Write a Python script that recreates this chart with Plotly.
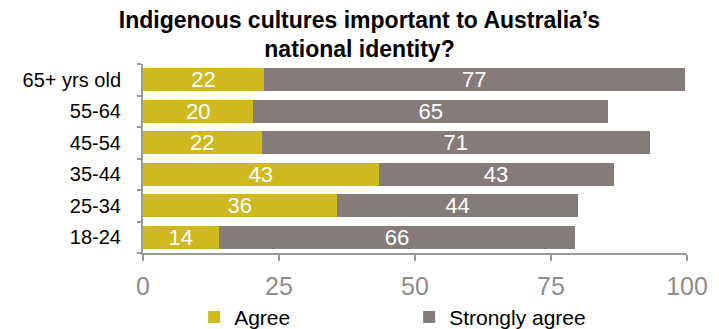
import plotly.graph_objects as go

categories = ["18-24", "25-34", "35-44", "45-54", "55-64", "65+ yrs old"]
agree = [13.9, 35.6, 43.3, 21.8, 20.3, 22.2]
strongly_agree = [65.6, 44.4, 43.2, 71.4, 65.2, 77.4]
x_ticks = [0, 25, 50, 75, 100]

FONT = "Liberation Sans, Arial, sans-serif"
GOLD = "#CFB91F"
GREY = "#857C79"
AXIS = "#9A9A9A"

fig = go.Figure()
for name, vals, col in [("Agree", agree, GOLD), ("Strongly agree", strongly_agree, GREY)]:
    fig.add_trace(go.Bar(
        y=categories, x=vals, name=name, orientation="h",
        marker=dict(color=col, line=dict(width=0)),
        texttemplate="%{x:.0f}", textposition="inside", insidetextanchor="middle",
        textangle=0,
        textfont=dict(color="white", size=22, family=FONT), constraintext="none",
    ))

fig.update_layout(
    width=719, height=329,
    barmode="stack", bargap=0.26,
    paper_bgcolor="white", plot_bgcolor="white",
    margin=dict(l=143, r=32, t=64, b=76, autoexpand=False),
    font=dict(family=FONT, color="black"),
    title=dict(
        text="<b>Indigenous cultures important to Australia’s<br>national identity?</b>",
        x=0.5, xref="container", xanchor="center",
        y=1 - 27.5 / 329, yref="container", yanchor="middle",
        font=dict(size=23, family=FONT, color="black"),
    ),
    xaxis=dict(
        range=[0, 100], tickvals=x_ticks, ticktext=[str(v) for v in x_ticks],
        showgrid=False, zeroline=False,
        showline=True, linecolor=AXIS, linewidth=2,
        ticks="outside", ticklen=6, tickcolor=AXIS, tickwidth=2,
        tickfont=dict(size=25, color="#8C8C8C", family=FONT),
        ticklabelstandoff=4,
    ),
    yaxis=dict(
        showgrid=False, zeroline=False,
        showline=True, linecolor=AXIS, linewidth=2,
        ticks="outside", ticklen=4, tickcolor=AXIS, tickwidth=2,
        tickson="boundaries",
        tickfont=dict(size=20, color="black", family=FONT),
        ticklabelstandoff=16,
    ),
    legend=dict(
        orientation="h", x=0.094, xanchor="left", y=-0.34, yanchor="middle",
        font=dict(size=21, color="black", family=FONT),
        traceorder="normal", entrywidth=170, entrywidthmode="pixels",
        itemclick=False,
    ),
    showlegend=True,
)

fig.write_html("out.html", config={"displayModeBar": False},
               post_script="document.body.style.margin='0';")
